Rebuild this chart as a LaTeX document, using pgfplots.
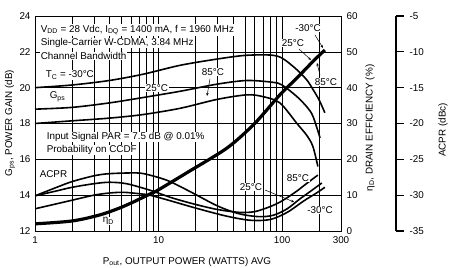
\documentclass[border=0pt]{standalone}
\usepackage{pgfplots}
\pgfplotsset{compat=1.18}
\usepackage{fontspec}
\setmainfont{Liberation Sans}
\usetikzlibrary{arrows.meta}
\newcommand{\fs}{\fontsize{9.9}{11}\selectfont}
\begin{document}
\begin{tikzpicture}[font=\fs]
\useasboundingbox (-35bp,-37bp) rectangle (418bp,231bp);
% main gain axis
\begin{axis}[scale only axis, width=306bp, height=215bp, at={(0,0)}, anchor=south west,
  xmode=log, xmin=1, xmax=300,
  ymin=12, ymax=24, ytick={12,14,...,24},
  yticklabels={12,14,16,18,20,22,24},
  xtick={1,10,100,300}, xticklabels={1,10,100,300},
  minor xtick={2,3,4,5,6,7,8,9,20,30,40,50,60,70,80,90,200},
  grid=both, major grid style={black, line width=0.5bp}, minor grid style={black, line width=0.5bp},
  axis line style={black, line width=0.9bp},
  major tick length=0pt, minor tick length=0pt,
  tick label style={font=\fs},
  yticklabel style={xshift=-1bp},
  xticklabel style={yshift=-2bp}]
\addplot[black, line width=1.6bp, smooth] coordinates {(1,20.0)(2,20.15)(4,20.4)(7.5,20.75)(15,21.25)(30,21.6)(50,21.8)(80,21.82)(100,21.65)(132,21.0)(160,20.4)(178,19.9)(200,19.3)(222,18.6)};
\addplot[black, line width=1.6bp, smooth] coordinates {(1,18.8)(2,18.9)(4,19.15)(7.5,19.45)(15,19.8)(30,20.2)(52,20.4)(84,20.3)(100,20.15)(132,19.5)(160,18.9)(178,18.4)(203,17.2)};
\addplot[black, line width=1.6bp, smooth] coordinates {(1,18.0)(2,18.15)(4,18.3)(7.5,18.5)(15,18.85)(30,19.35)(52,19.6)(70,19.5)(96,19.15)(132,18.0)(160,17.3)(178,16.7)(195,15.6)};
\end{axis}
% ACPR data (hidden axis)
\begin{axis}[scale only axis, width=306bp, height=215bp, at={(0,0)}, anchor=south west,
  xmode=log, xmin=1, xmax=300, hide axis, ymin=-35, ymax=-5]
\addplot[black, line width=1.6bp, smooth] coordinates {(1,-30.1)(1.5,-29.4)(2,-28.9)(3,-28.4)(4,-28.2)(5.5,-28.4)(8.5,-29.3)(13,-30.4)(20,-31.3)(30,-32.0)(45,-32.4)(60,-32.3)(80,-31.6)(100,-30.8)(130,-29.5)(160,-28.3)(195,-27.2)};
\addplot[black, line width=1.6bp, smooth] coordinates {(1,-30.1)(1.5,-28.9)(2,-28.1)(3,-27.3)(4,-27.0)(6.7,-26.9)(8.5,-27.2)(12,-28.0)(18,-29.5)(30,-31.5)(45,-32.6)(65,-33.0)(85,-32.8)(110,-31.9)(140,-30.5)(175,-29.3)(210,-28.3)};
\addplot[black, line width=1.6bp, smooth] coordinates {(1,-31.9)(1.5,-31.2)(2,-30.7)(3,-30.0)(4,-29.7)(5.2,-29.6)(7,-29.8)(8.5,-30.0)(12,-30.7)(20,-31.8)(35,-32.9)(55,-33.5)(80,-33.4)(110,-32.4)(150,-30.8)(190,-29.7)(222,-28.9)};
\end{axis}
% efficiency axis
\begin{axis}[scale only axis, width=306bp, height=215bp, at={(0,0)}, anchor=south west,
  xmode=log, xmin=1, xmax=300,
  ymin=0, ymax=60, ytick={0,10,...,60},
  yticklabels={0,10,20,30,40,50,60},
  axis x line=none, axis y line*=right, axis line style={draw=none},
  major tick length=0pt, tick label style={font=\fs}, yticklabel style={xshift=2bp}]
\addplot[black, line width=3.2bp, smooth] coordinates {(1,2.0)(2,2.8)(3.36,4.5)(5,6.6)(6,7.8)(8.5,10.3)(10,11.5)(18,16.8)(36,23.2)(60,30)(96,38)(132,42.7)(180,47.5)(222,50.5)};
\end{axis}
% ACPR scale axis
\begin{axis}[scale only axis, width=10bp, height=215bp, at={(351bp,0)}, anchor=south west,
  xmin=0, xmax=1, ymin=-35, ymax=-5, ytick={-35,-30,...,-5},
  yticklabels={-35,-30,-25,-20,-15,-10,-5},
  axis x line=none, axis y line*=right,
  axis line style={black, line width=1.2bp}, tick style={black, line width=1.2bp},
  tick align=outside, major tick length=8bp,
  tick label style={font=\fs}, yticklabel style={xshift=2bp}]
\end{axis}
% axis labels
\node[rotate=90] at (-25bp,108bp) {G\textsubscript{ps}, POWER GAIN (dB)};
\node[rotate=90] at (335bp,103bp) {η\textsubscript{D}, DRAIN EFFICIENCY (\%)};
\node[rotate=90] at (408bp,101bp) {ACPR (dBc)};
\node[anchor=base] at (152bp,-33.5bp) {P\textsubscript{out}, OUTPUT POWER (WATTS) AVG};
% annotations
\begin{scope}[every node/.style={fill=white, inner sep=0.6bp}]
\node[anchor=west] at (5bp,201bp) {V\textsubscript{DD} = 28 Vdc, I\textsubscript{DQ} = 1400 mA, f = 1960 MHz};
\node[anchor=west] at (5bp,188bp) {Single-Carrier W-CDMA, 3.84 MHz};
\node[anchor=west] at (5bp,175bp) {Channel Bandwidth};
\node[anchor=west] at (10bp,156bp) {T\textsubscript{C} = -30°C};
\node[anchor=west] at (14bp,134bp) {G\textsubscript{ps}};
\node at (122bp,143bp) {25°C};
\node at (178bp,159bp) {85°C};
\node at (273bp,203bp) {-30°C};
\node at (258bp,188bp) {25°C};
\node at (291bp,149bp) {85°C};
\node[anchor=west] at (11bp,94bp) {Input Signal PAR = 7.5 dB @ 0.01\%};
\node[anchor=west] at (11bp,81bp) {Probability on CCDF};
\node[anchor=west] at (4bp,57bp) {ACPR};
\node[anchor=west] at (67bp,10bp) {η\textsubscript{D}};
\node at (216bp,44bp) {25°C};
\node at (263bp,53bp) {85°C};
\node at (285bp,21bp) {-30°C};
\end{scope}
\begin{scope}[line width=0.5bp, -{Stealth[length=3bp,width=2.5bp]}]
\draw (175bp,152bp) -- (172bp,135bp);
\draw (280bp,196bp) -- (288bp,183bp);
\draw (264bp,182bp) -- (276bp,171bp);
\draw (285bp,156bp) -- (282bp,168bp);
\draw (230bp,41bp) -- (259bp,29bp);
\end{scope}
\end{tikzpicture}
\end{document}
